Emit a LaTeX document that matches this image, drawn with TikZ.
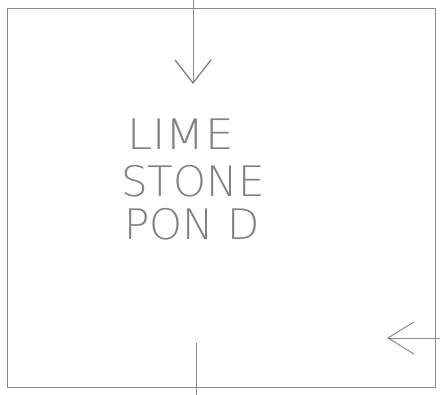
\documentclass[tikz,border=0pt]{standalone}
\usepackage{fontspec}
\setmainfont{Liberation Sans}
\newfontfamily\thinfont{DejaVu Sans ExtraLight}
\usetikzlibrary{arrows.meta}
\definecolor{pencil}{RGB}{140,140,140}
\definecolor{lbl}{RGB}{130,130,130}
\definecolor{redpen}{RGB}{150,118,126}
\begin{document}
\begin{tikzpicture}[x=1pt,y=-1pt,
  pline/.style={draw=pencil,line width=0.9pt},
  label/.style={anchor=base west,inner sep=0pt,text=lbl,font=\thinfont\fontsize{42}{42}\selectfont},
  downhead/.style={-{Straight Barb[length=23pt,width=36pt,line width=1.3pt,color=redpen]}},
  lefthead/.style={-{Straight Barb[length=26pt,width=32pt,line width=1pt]}}]
\useasboundingbox (0,0) rectangle (440,395);
\fill[white] (0,0) rectangle (440,395);
\coordinate (tl) at (7,8);
\coordinate (br) at (435,387);
\draw[pline] (tl) rectangle (br);
\coordinate (intop) at (193,0);
\coordinate (inend) at (193,84);
\draw[pline,downhead] (intop) -- (inend);
\coordinate (rin) at (440,338);
\coordinate (rend) at (387,338);
\draw[pline,lefthead] (rin) -- (rend);
\coordinate (outtop) at (196,343);
\coordinate (outend) at (196,395);
\draw[pline] (outtop) -- (outend);
\node[label,xscale=1.08] (lime) at (127,150) {LIME};
\node[label] (stone) at (121,197) {STONE};
\node[label] (pond) at (124,240) {PON D};
\end{tikzpicture}
\end{document}
